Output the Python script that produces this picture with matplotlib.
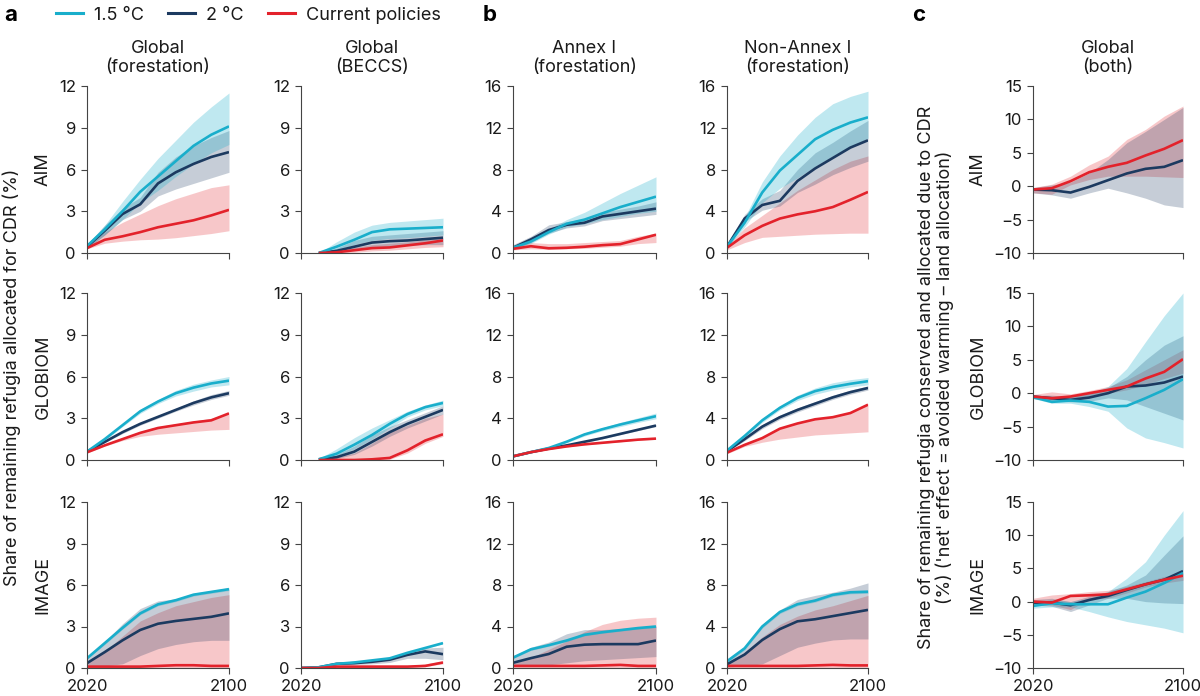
import numpy as np
import matplotlib
matplotlib.use("Agg")
import matplotlib.pyplot as plt
from matplotlib.lines import Line2D

plt.rcParams['font.family'] = ['Inter', 'DejaVu Sans']

nan = None
years = [2020, 2030, 2040, 2050, 2060, 2070, 2080, 2090, 2100]
scenarios = ['1.5 °C', '2 °C', 'Current policies']
models = ['AIM', 'GLOBIOM', 'IMAGE']
col_titles = ['Global\n(forestation)', 'Global\n(BECCS)', 'Annex I\n(forestation)',
              'Non-Annex I\n(forestation)', 'Global\n(both)']
yticks_a = [0, 3, 6, 9, 12]
yticks_b = [0, 4, 8, 12, 16]
yticks_c = [-10, -5, 0, 5, 10, 15]
xtick_labels = ['2020', '2100']

# ---------------- AIM ----------------
aim_gf_15 = [0.5, 1.7, 3.0, 4.4, 5.5, 6.6, 7.7, 8.5, 9.1]
aim_gf_15_lo = [0.4, 1.3, 2.4, 3.6, 4.5, 5.5, 6.4, 7.2, 7.8]
aim_gf_15_hi = [0.6, 2.0, 3.7, 5.3, 6.8, 8.1, 9.4, 10.5, 11.5]
aim_gf_2 = [0.45, 1.6, 2.8, 3.5, 5.0, 5.8, 6.4, 6.9, 7.25]
aim_gf_2_lo = [0.3, 1.3, 2.4, 3.0, 4.1, 4.6, 5.0, 5.4, 5.8]
aim_gf_2_hi = [0.6, 2.0, 3.2, 4.0, 5.8, 6.9, 7.7, 8.3, 8.8]
aim_gf_cp = [0.35, 0.95, 1.2, 1.5, 1.85, 2.1, 2.35, 2.7, 3.1]
aim_gf_cp_lo = [0.3, 0.7, 0.85, 0.95, 1.0, 1.1, 1.25, 1.4, 1.6]
aim_gf_cp_hi = [0.5, 1.5, 2.2, 2.8, 3.4, 3.9, 4.3, 4.7, 4.9]

aim_gb_15 = [nan, 0.0, 0.45, 0.95, 1.5, 1.7, 1.75, 1.8, 1.85]
aim_gb_15_lo = [nan, 0.0, 0.25, 0.6, 0.9, 1.05, 1.1, 1.2, 1.3]
aim_gb_15_hi = [nan, 0.0, 0.8, 1.5, 2.0, 2.2, 2.3, 2.4, 2.5]
aim_gb_2 = [nan, 0.0, 0.15, 0.45, 0.75, 0.85, 0.9, 1.0, 1.1]
aim_gb_2_lo = [nan, 0.0, 0.05, 0.2, 0.4, 0.5, 0.55, 0.6, 0.6]
aim_gb_2_hi = [nan, 0.0, 0.35, 0.9, 1.2, 1.3, 1.4, 1.5, 1.6]
aim_gb_cp = [nan, 0.0, 0.05, 0.2, 0.35, 0.4, 0.55, 0.7, 0.9]
aim_gb_cp_lo = [nan, 0.0, 0.0, 0.05, 0.15, 0.2, 0.3, 0.4, 0.45]
aim_gb_cp_hi = [nan, 0.0, 0.15, 0.4, 0.6, 0.7, 0.8, 0.95, 1.1]

aim_a1_15 = [0.5, 1.1, 2.0, 2.8, 3.2, 3.8, 4.4, 4.9, 5.4]
aim_a1_15_lo = [0.4, 0.9, 1.8, 2.5, 2.8, 3.2, 3.5, 3.8, 4.0]
aim_a1_15_hi = [0.7, 1.4, 2.3, 3.2, 3.9, 4.8, 5.7, 6.5, 7.3]
aim_a1_2 = [0.5, 1.3, 2.2, 2.7, 2.9, 3.5, 3.75, 4.0, 4.25]
aim_a1_2_lo = [0.4, 1.0, 1.9, 2.4, 2.6, 3.1, 3.3, 3.5, 3.7]
aim_a1_2_hi = [0.8, 1.6, 2.7, 3.0, 3.3, 3.9, 4.2, 4.5, 4.9]
aim_a1_cp = [0.4, 0.65, 0.45, 0.5, 0.6, 0.75, 0.85, 1.3, 1.75]
aim_a1_cp_lo = [0.3, 0.4, 0.35, 0.4, 0.45, 0.55, 0.65, 0.9, 1.0]
aim_a1_cp_hi = [0.7, 1.0, 0.9, 0.9, 1.0, 1.1, 1.2, 1.6, 1.9]

aim_na_15 = [0.6, 2.9, 5.8, 7.9, 9.4, 10.9, 11.8, 12.5, 13.0]
aim_na_15_lo = [0.5, 2.5, 4.8, 6.2, 7.2, 8.3, 9.3, 10.2, 11.0]
aim_na_15_hi = [0.8, 3.4, 6.8, 9.3, 11.3, 13.0, 14.3, 15.0, 15.5]
aim_na_2 = [0.6, 3.3, 4.6, 5.0, 6.9, 8.1, 9.1, 10.1, 10.8]
aim_na_2_lo = [0.5, 3.0, 4.1, 4.5, 5.8, 6.6, 7.5, 8.2, 8.8]
aim_na_2_hi = [0.8, 3.7, 5.2, 6.0, 8.0, 9.6, 10.6, 11.7, 12.7]
aim_na_cp = [0.5, 1.7, 2.6, 3.3, 3.7, 4.0, 4.4, 5.1, 5.85]
aim_na_cp_lo = [0.3, 1.0, 1.5, 1.6, 1.7, 1.8, 1.85, 1.9, 1.9]
aim_na_cp_hi = [0.7, 2.4, 3.6, 4.8, 6.0, 7.0, 8.0, 8.8, 9.3]

aim_c_2 = [-0.5, -0.6, -0.95, -0.1, 0.9, 1.9, 2.6, 2.9, 3.9]
aim_c_2_lo = [-1.0, -1.3, -1.8, -1.0, -0.3, -1.0, -1.8, -2.8, -3.2]
aim_c_2_hi = [-0.2, 0.2, 0.6, 2.0, 4.0, 6.5, 8.2, 10.0, 11.8]
aim_c_cp = [-0.5, -0.3, 0.75, 2.1, 2.9, 3.5, 4.6, 5.6, 6.9]
aim_c_cp_lo = [-1.0, -1.2, 0.2, 1.0, 1.5, 1.5, 1.5, 1.4, 1.3]
aim_c_cp_hi = [-0.2, 0.3, 1.5, 3.2, 4.5, 7.0, 8.5, 10.5, 12.0]

# ---------------- GLOBIOM ----------------
glo_gf_15 = [0.6, 1.5, 2.5, 3.5, 4.2, 4.8, 5.2, 5.5, 5.7]
glo_gf_15_lo = [0.55, 1.4, 2.4, 3.35, 4.05, 4.6, 4.95, 5.25, 5.4]
glo_gf_15_hi = [0.65, 1.6, 2.6, 3.65, 4.35, 5.0, 5.45, 5.75, 6.0]
glo_gf_2 = [0.6, 1.3, 2.0, 2.6, 3.1, 3.6, 4.1, 4.5, 4.8]
glo_gf_2_lo = [0.55, 1.25, 1.9, 2.5, 3.0, 3.5, 3.95, 4.35, 4.65]
glo_gf_2_hi = [0.65, 1.35, 2.1, 2.7, 3.2, 3.7, 4.25, 4.7, 5.0]
glo_gf_cp = [0.55, 1.05, 1.5, 1.95, 2.3, 2.5, 2.7, 2.85, 3.35]
glo_gf_cp_lo = [0.5, 1.0, 1.4, 1.7, 1.85, 1.95, 2.05, 2.15, 2.2]
glo_gf_cp_hi = [0.6, 1.1, 1.6, 2.05, 2.4, 2.6, 2.8, 3.0, 3.4]

glo_gb_15 = [nan, 0.05, 0.45, 1.1, 1.8, 2.6, 3.3, 3.8, 4.1]
glo_gb_15_lo = [nan, 0.0, 0.3, 0.8, 1.5, 2.3, 3.1, 3.6, 3.9]
glo_gb_15_hi = [nan, 0.1, 0.8, 1.6, 2.3, 2.9, 3.5, 3.95, 4.3]
glo_gb_2 = [nan, 0.05, 0.2, 0.6, 1.3, 2.0, 2.6, 3.1, 3.6]
glo_gb_2_lo = [nan, 0.0, 0.1, 0.4, 1.0, 1.7, 2.3, 2.8, 3.3]
glo_gb_2_hi = [nan, 0.1, 0.4, 1.0, 1.8, 2.4, 2.9, 3.4, 3.9]
glo_gb_cp = [nan, 0.0, 0.0, 0.0, 0.05, 0.15, 0.7, 1.4, 1.85]
glo_gb_cp_lo = [nan, 0.0, 0.0, 0.0, 0.0, 0.05, 0.5, 1.2, 1.7]
glo_gb_cp_hi = [nan, 0.05, 0.2, 0.5, 1.2, 2.0, 2.5, 3.0, 3.3]

glo_a1_15 = [0.35, 0.75, 1.15, 1.75, 2.45, 2.95, 3.4, 3.8, 4.2]
glo_a1_15_lo = [0.3, 0.7, 1.1, 1.65, 2.3, 2.8, 3.2, 3.6, 3.95]
glo_a1_15_hi = [0.4, 0.8, 1.2, 1.85, 2.6, 3.1, 3.6, 4.05, 4.5]
glo_a1_2 = [0.35, 0.75, 1.1, 1.4, 1.75, 2.1, 2.5, 2.9, 3.3]
glo_a1_2_lo = [0.3, 0.7, 1.02, 1.32, 1.67, 2.02, 2.42, 2.82, 3.2]
glo_a1_2_hi = [0.4, 0.8, 1.18, 1.48, 1.83, 2.18, 2.58, 2.98, 3.4]
glo_a1_cp = [0.35, 0.75, 1.05, 1.3, 1.5, 1.65, 1.8, 1.95, 2.05]
glo_a1_cp_lo = [0.3, 0.7, 1.0, 1.25, 1.45, 1.6, 1.75, 1.9, 2.0]
glo_a1_cp_hi = [0.4, 0.8, 1.1, 1.35, 1.55, 1.7, 1.85, 2.0, 2.1]

glo_na_15 = [0.9, 2.3, 3.8, 5.0, 5.95, 6.6, 7.0, 7.3, 7.55]
glo_na_15_lo = [0.8, 2.1, 3.6, 4.8, 5.7, 6.3, 6.7, 7.0, 7.2]
glo_na_15_hi = [1.0, 2.5, 4.0, 5.2, 6.2, 6.9, 7.4, 7.7, 7.9]
glo_na_2 = [0.85, 2.0, 3.2, 4.1, 4.8, 5.4, 6.0, 6.5, 6.9]
glo_na_2_lo = [0.8, 1.85, 3.0, 3.9, 4.6, 5.2, 5.8, 6.3, 6.7]
glo_na_2_hi = [0.9, 2.15, 3.4, 4.3, 5.0, 5.6, 6.2, 6.7, 7.1]
glo_na_cp = [0.7, 1.45, 2.1, 3.0, 3.5, 3.9, 4.1, 4.5, 5.3]
glo_na_cp_lo = [0.6, 1.3, 1.7, 2.0, 2.2, 2.4, 2.5, 2.6, 2.7]
glo_na_cp_hi = [0.8, 1.55, 2.2, 3.1, 3.6, 4.0, 4.2, 4.6, 5.4]

glo_c_15 = [-0.6, -1.3, -1.1, -1.3, -2.0, -1.9, -0.75, 0.5, 2.1]
glo_c_15_lo = [-0.8, -1.5, -1.5, -2.0, -2.7, -5.2, -6.7, -7.4, -8.2]
glo_c_15_hi = [-0.3, -0.5, -0.5, 0.0, 1.0, 3.7, 7.7, 11.6, 15.0]
glo_c_2 = [-0.5, -0.75, -1.0, -0.65, 0.0, 1.0, 1.15, 1.6, 2.5]
glo_c_2_lo = [-0.8, -1.1, -1.3, -1.2, -0.7, -1.0, -2.0, -3.0, -4.0]
glo_c_2_hi = [-0.3, -0.3, -0.5, 0.0, 0.8, 2.5, 5.0, 7.2, 8.6]
glo_c_cp = [-0.5, -0.75, -0.5, 0.0, 0.5, 1.0, 2.2, 3.2, 5.1]
glo_c_cp_lo = [-0.8, -1.0, -0.8, -0.4, 0.0, 0.5, 1.3, 2.2, 3.0]
glo_c_cp_hi = [-0.2, 0.2, -0.1, 0.4, 1.0, 2.0, 3.5, 5.0, 6.5]

# ---------------- IMAGE ----------------
img_gf_15 = [0.7, 1.8, 2.9, 3.95, 4.6, 4.9, 5.3, 5.5, 5.7]
img_gf_15_lo = [0.65, 1.7, 2.8, 3.85, 4.5, 4.8, 5.2, 5.4, 5.6]
img_gf_15_hi = [0.75, 1.9, 3.0, 4.05, 4.7, 5.0, 5.4, 5.6, 5.8]
img_gf_2 = [0.35, 1.15, 2.0, 2.75, 3.2, 3.4, 3.55, 3.7, 3.95]
img_gf_2_lo = [0.1, 0.15, 0.3, 0.9, 1.4, 1.7, 1.9, 2.0, 2.0]
img_gf_2_hi = [0.8, 1.9, 3.2, 4.3, 4.85, 5.0, 5.3, 5.5, 5.7]
img_gf_cp = [0.1, 0.1, 0.1, 0.1, 0.15, 0.2, 0.2, 0.15, 0.15]
img_gf_cp_lo = [0.0, 0.0, 0.0, 0.0, 0.0, 0.0, 0.0, 0.0, 0.0]
img_gf_cp_hi = [0.5, 1.2, 2.3, 3.4, 4.0, 4.5, 4.8, 5.1, 5.3]

img_gb_15 = [0.0, 0.05, 0.3, 0.4, 0.55, 0.7, 1.1, 1.45, 1.8]
img_gb_15_lo = [0.0, 0.0, 0.25, 0.35, 0.5, 0.65, 1.05, 1.4, 1.75]
img_gb_15_hi = [0.0, 0.1, 0.35, 0.45, 0.6, 0.75, 1.15, 1.5, 1.85]
img_gb_2 = [0.0, 0.05, 0.3, 0.35, 0.45, 0.6, 0.95, 1.2, 1.0]
img_gb_2_lo = [0.0, 0.0, 0.2, 0.25, 0.3, 0.4, 0.7, 0.7, 0.6]
img_gb_2_hi = [0.0, 0.1, 0.35, 0.45, 0.6, 0.75, 1.1, 1.45, 1.5]
img_gb_cp = [0.0, 0.0, 0.1, 0.1, 0.1, 0.1, 0.1, 0.15, 0.4]
img_gb_cp_lo = [0.0, 0.0, 0.05, 0.05, 0.05, 0.05, 0.05, 0.1, 0.3]
img_gb_cp_hi = [0.0, 0.05, 0.15, 0.15, 0.15, 0.15, 0.15, 0.3, 0.5]

img_a1_15 = [1.0, 1.8, 2.2, 2.65, 3.2, 3.45, 3.65, 3.85, 4.0]
img_a1_15_lo = [0.9, 1.7, 2.1, 2.55, 3.1, 3.35, 3.55, 3.75, 3.9]
img_a1_15_hi = [1.1, 1.9, 2.3, 2.75, 3.3, 3.55, 3.75, 3.95, 4.1]
img_a1_2 = [0.5, 0.95, 1.35, 2.05, 2.25, 2.3, 2.3, 2.3, 2.65]
img_a1_2_lo = [0.2, 0.3, 0.3, 0.5, 0.7, 0.8, 0.9, 1.0, 1.1]
img_a1_2_hi = [1.1, 2.0, 2.5, 3.3, 3.7, 3.7, 3.8, 3.9, 4.0]
img_a1_cp = [0.2, 0.2, 0.2, 0.2, 0.2, 0.25, 0.3, 0.2, 0.2]
img_a1_cp_lo = [0.05, 0.05, 0.05, 0.05, 0.05, 0.05, 0.05, 0.05, 0.05]
img_a1_cp_hi = [0.4, 1.0, 1.8, 2.6, 3.5, 4.2, 4.6, 4.8, 4.9]

img_na_15 = [0.65, 1.9, 4.0, 5.4, 6.15, 6.5, 7.05, 7.3, 7.35]
img_na_15_lo = [0.5, 1.75, 3.85, 5.25, 6.0, 6.35, 6.9, 7.15, 7.2]
img_na_15_hi = [0.8, 2.05, 4.15, 5.55, 6.3, 6.65, 7.2, 7.45, 7.5]
img_na_2 = [0.35, 1.3, 2.7, 3.75, 4.5, 4.7, 5.0, 5.3, 5.6]
img_na_2_lo = [0.1, 0.2, 0.4, 1.2, 2.0, 2.4, 2.7, 2.8, 2.8]
img_na_2_hi = [0.7, 2.0, 4.2, 5.6, 6.6, 7.0, 7.3, 7.7, 8.2]
img_na_cp = [0.2, 0.2, 0.2, 0.2, 0.2, 0.25, 0.3, 0.25, 0.25]
img_na_cp_lo = [0.05, 0.05, 0.05, 0.05, 0.05, 0.05, 0.05, 0.05, 0.05]
img_na_cp_hi = [0.5, 1.5, 3.0, 4.2, 5.0, 5.6, 6.0, 6.5, 7.0]

img_c_15 = [-0.65, -0.25, -0.4, -0.4, -0.4, 0.6, 1.5, 2.8, 4.3]
img_c_15_lo = [-1.0, -0.8, -0.8, -1.5, -2.3, -3.0, -3.5, -4.0, -4.7]
img_c_15_hi = [-0.2, 0.3, 0.0, 0.5, 1.5, 3.5, 6.0, 10.0, 13.7]
img_c_2 = [-0.15, -0.15, -0.55, 0.25, 0.85, 1.75, 2.6, 3.3, 4.6]
img_c_2_lo = [-0.5, -0.7, -1.5, -0.5, 0.5, 0.5, 0.0, -0.2, -0.3]
img_c_2_hi = [0.3, 0.5, 0.0, 0.8, 1.5, 2.5, 4.0, 7.0, 9.9]
img_c_cp = [0.0, -0.15, 0.85, 0.95, 1.1, 1.85, 2.6, 3.3, 3.9]
img_c_cp_lo = [-0.5, -0.5, -1.2, 0.4, 0.5, 1.3, 2.2, 2.8, 3.2]
img_c_cp_hi = [0.5, 1.0, 1.2, 1.5, 1.7, 2.3, 3.0, 3.8, 4.3]

# ---------------- assembly ----------------
C15, C2, CCP = '#19AECB', '#1C3A60', '#E3222B'
colors = [C15, C2, CCP]

def S(m, lo, hi):
    return (m, lo, hi)

panels = {
    (0, 0): [S(aim_gf_15, aim_gf_15_lo, aim_gf_15_hi), S(aim_gf_2, aim_gf_2_lo, aim_gf_2_hi), S(aim_gf_cp, aim_gf_cp_lo, aim_gf_cp_hi)],
    (0, 1): [S(aim_gb_15, aim_gb_15_lo, aim_gb_15_hi), S(aim_gb_2, aim_gb_2_lo, aim_gb_2_hi), S(aim_gb_cp, aim_gb_cp_lo, aim_gb_cp_hi)],
    (0, 2): [S(aim_a1_15, aim_a1_15_lo, aim_a1_15_hi), S(aim_a1_2, aim_a1_2_lo, aim_a1_2_hi), S(aim_a1_cp, aim_a1_cp_lo, aim_a1_cp_hi)],
    (0, 3): [S(aim_na_15, aim_na_15_lo, aim_na_15_hi), S(aim_na_2, aim_na_2_lo, aim_na_2_hi), S(aim_na_cp, aim_na_cp_lo, aim_na_cp_hi)],
    (0, 4): [None, S(aim_c_2, aim_c_2_lo, aim_c_2_hi), S(aim_c_cp, aim_c_cp_lo, aim_c_cp_hi)],
    (1, 0): [S(glo_gf_15, glo_gf_15_lo, glo_gf_15_hi), S(glo_gf_2, glo_gf_2_lo, glo_gf_2_hi), S(glo_gf_cp, glo_gf_cp_lo, glo_gf_cp_hi)],
    (1, 1): [S(glo_gb_15, glo_gb_15_lo, glo_gb_15_hi), S(glo_gb_2, glo_gb_2_lo, glo_gb_2_hi), S(glo_gb_cp, glo_gb_cp_lo, glo_gb_cp_hi)],
    (1, 2): [S(glo_a1_15, glo_a1_15_lo, glo_a1_15_hi), S(glo_a1_2, glo_a1_2_lo, glo_a1_2_hi), S(glo_a1_cp, glo_a1_cp_lo, glo_a1_cp_hi)],
    (1, 3): [S(glo_na_15, glo_na_15_lo, glo_na_15_hi), S(glo_na_2, glo_na_2_lo, glo_na_2_hi), S(glo_na_cp, glo_na_cp_lo, glo_na_cp_hi)],
    (1, 4): [S(glo_c_15, glo_c_15_lo, glo_c_15_hi), S(glo_c_2, glo_c_2_lo, glo_c_2_hi), S(glo_c_cp, glo_c_cp_lo, glo_c_cp_hi)],
    (2, 0): [S(img_gf_15, img_gf_15_lo, img_gf_15_hi), S(img_gf_2, img_gf_2_lo, img_gf_2_hi), S(img_gf_cp, img_gf_cp_lo, img_gf_cp_hi)],
    (2, 1): [S(img_gb_15, img_gb_15_lo, img_gb_15_hi), S(img_gb_2, img_gb_2_lo, img_gb_2_hi), S(img_gb_cp, img_gb_cp_lo, img_gb_cp_hi)],
    (2, 2): [S(img_a1_15, img_a1_15_lo, img_a1_15_hi), S(img_a1_2, img_a1_2_lo, img_a1_2_hi), S(img_a1_cp, img_a1_cp_lo, img_a1_cp_hi)],
    (2, 3): [S(img_na_15, img_na_15_lo, img_na_15_hi), S(img_na_2, img_na_2_lo, img_na_2_hi), S(img_na_cp, img_na_cp_lo, img_na_cp_hi)],
    (2, 4): [S(img_c_15, img_c_15_lo, img_c_15_hi), S(img_c_2, img_c_2_lo, img_c_2_hi), S(img_c_cp, img_c_cp_lo, img_c_cp_hi)],
}

W, H = 1200, 696
fig = plt.figure(figsize=(W / 100, H / 100), dpi=100)

col_left = [87, 301, 513, 727, 1033]
col_right = [229, 443, 656, 868, 1183]
row_top = [86, 293, 502]
row_bot = [253, 460, 668]
TXT = '#1a1a1a'
SPINE = '#444444'

x = np.array(years, dtype=float)
for (r, c), series in panels.items():
    l, rr = col_left[c], col_right[c]
    t, b = row_top[r], row_bot[r]
    ax = fig.add_axes([l / W, 1 - b / H, (rr - l) / W, (b - t) / H])
    for order in [2, 1, 0]:
        s = series[order]
        if s is None:
            continue
        lo = np.array(s[1], dtype=float)
        hi = np.array(s[2], dtype=float)
        alpha = 0.28 if order == 0 else 0.25
        ax.fill_between(x, lo, hi, color=colors[order], alpha=alpha, lw=0)
    for order in [1, 0, 2]:
        s = series[order]
        if s is None:
            continue
        ax.plot(x, np.array(s[0], dtype=float), color=colors[order], lw=1.9,
                solid_joinstyle='round', solid_capstyle='butt')
    ax.set_xlim(2020, 2100)
    if c in (0, 1):
        ax.set_ylim(0, 12); ax.set_yticks(yticks_a)
    elif c in (2, 3):
        ax.set_ylim(0, 16); ax.set_yticks(yticks_b)
    else:
        ax.set_ylim(-10, 15); ax.set_yticks(yticks_c)
    ax.set_xticks([2020, 2100])
    if r == 2:
        ax.set_xticklabels(xtick_labels)
    else:
        ax.set_xticklabels([])
    for sp in ['top', 'right']:
        ax.spines[sp].set_visible(False)
    for sp in ['left', 'bottom']:
        ax.spines[sp].set_color(SPINE)
        ax.spines[sp].set_linewidth(0.8)
    ax.tick_params(direction='out', length=4, width=0.8, color=SPINE,
                   labelsize=12, labelcolor=TXT, pad=4)
    ax.patch.set_alpha(0)
    if r == 0:
        ax.set_title(col_titles[c], fontsize=13, color=TXT, pad=10, linespacing=1.15)

for r, m in enumerate(models):
    yc = 1 - (row_top[r] + row_bot[r]) / 2 / H
    fig.text(43 / W, yc, m, rotation=90, ha='center', va='center', fontsize=13, color=TXT)
    fig.text(978 / W, yc, m, rotation=90, ha='center', va='center', fontsize=13, color=TXT)

ymid = 1 - (row_top[0] + row_bot[2]) / 2 / H
fig.text(12 / W, ymid, 'Share of remaining refugia allocated for CDR (%)', rotation=90,
         ha='center', va='center', fontsize=13, color=TXT)
fig.text(936 / W, ymid,
         "Share of remaining refugia conserved and allocated due to CDR\n(%) ('net' effect = avoided warming \u2013 land allocation)",
         rotation=90, ha='center', va='center', fontsize=13, color=TXT, linespacing=1.1,
         multialignment='center')

for xp, letter in [(4, 'a'), (483, 'b'), (912, 'c')]:
    fig.text(xp / W, 1 - 15 / H, letter, fontsize=16, fontweight='bold', ha='left', va='center', color='black')

handles = [Line2D([0], [0], color=col, lw=2.2) for col in colors]
fig.legend(handles, scenarios, loc='center left', bbox_to_anchor=(56 / W, 1 - 15 / H),
           ncol=3, frameon=False, fontsize=13, handlelength=1.5, handletextpad=0.6,
           columnspacing=1.35, borderaxespad=0, borderpad=0, labelcolor=TXT)

fig.savefig('out.png', dpi=100)
